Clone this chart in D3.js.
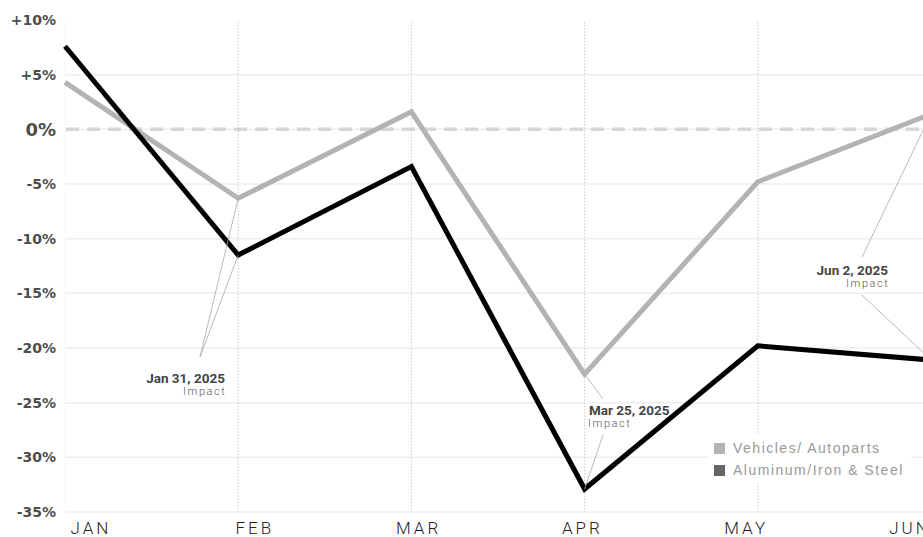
<!DOCTYPE html>
<html>
<head>
<meta charset="utf-8">
<script src="https://cdn.jsdelivr.net/npm/d3@7"></script>
<style>
  html, body { margin: 0; padding: 0; background: #fff; }
  svg { display: block; }
</style>
</head>
<body>
<svg id="chart" width="923" height="537"></svg>
<script>
// Monthly change, 2025
const months = ["JAN", "FEB", "MAR", "APR", "MAY", "JUN"];
const vehicles = [4.3, -6.3, 1.6, -22.4, -4.8, 1.4];      // Vehicles/ Autoparts
const metals   = [7.6, -11.5, -3.4, -32.9, -19.8, -21.1]; // Aluminum/Iron & Steel
const yTicks = [10, 5, 0, -5, -10, -15, -20, -25, -30, -35];
const seriesNames = ["Vehicles/ Autoparts", "Aluminum/Iron & Steel"];
const impactDates = ["Jan 31, 2025", "Mar 25, 2025", "Jun 2, 2025"];

const W = 923, H = 537;
const svg = d3.select("#chart");

const x = d3.scalePoint().domain(months).range([65, 931]);
const xLabel = d3.scalePoint().domain(months).range([91, 910]);
const y = d3.scaleLinear().domain([-35, 10]).range([512, 20]);

const grey = "#b3b3b3", black = "#000";

// horizontal grid
svg.append("g").selectAll("line")
  .data(yTicks.filter(d => d !== 10))
  .join("line")
  .attr("x1", 66).attr("x2", W)
  .attr("y1", d => y(d)).attr("y2", d => y(d))
  .attr("stroke", "#eeeeee").attr("stroke-width", 1.5);

// zero reference
svg.append("line")
  .attr("x1", 66).attr("x2", W)
  .attr("y1", y(0)).attr("y2", y(0))
  .attr("stroke", "#d6d6d6").attr("stroke-width", 3.5)
  .attr("stroke-dasharray", "13 8");

// vertical dotted month lines
svg.append("g").selectAll("line")
  .data(months)
  .join("line")
  .attr("x1", d => x(d)).attr("x2", d => x(d))
  .attr("y1", 22).attr("y2", y(-35))
  .attr("stroke", d => d === "JAN" ? "#ececec" : "#bdbdbd")
  .attr("stroke-width", 1)
  .attr("stroke-dasharray", "1.2 2");

// y-axis labels
svg.append("g").selectAll("text")
  .data(yTicks)
  .join("text")
  .attr("x", 56)
  .attr("y", d => y(d))
  .attr("dy", "0.36em")
  .attr("text-anchor", "end")
  .attr("font-family", "DejaVu Sans, sans-serif")
  .attr("font-weight", "bold")
  .attr("font-size", d => d === 0 ? 18 : 14)
  .attr("fill", "#4d4d4d")
  .text(d => (d > 0 ? "+" : "") + d + "%");

// x-axis labels
svg.append("g").selectAll("text")
  .data(months)
  .join("text")
  .attr("x", d => xLabel(d))
  .attr("y", 534)
  .attr("text-anchor", "middle")
  .attr("font-family", "Roboto, Liberation Sans, sans-serif")
  .attr("font-weight", 300)
  .attr("font-size", 17)
  .attr("letter-spacing", 3)
  .attr("fill", "#222")
  .text(d => d);

// series lines
const line = d3.line().x((d, i) => x(months[i])).y(d => y(d));
svg.append("path").datum(vehicles)
  .attr("d", line).attr("fill", "none")
  .attr("stroke", grey).attr("stroke-width", 5)
  .attr("stroke-linejoin", "miter");
svg.append("path").datum(metals)
  .attr("d", line).attr("fill", "none")
  .attr("stroke", black).attr("stroke-width", 5)
  .attr("stroke-linejoin", "miter");

// impact annotations
const notes = [
  { date: impactDates[0], month: "FEB", tx: 225, ty: 383, anchor: "end",
    leaders: [[200, 357, vehicles[1]], [200, 357, metals[1]]] },
  { date: impactDates[1], month: "APR", tx: 589, ty: 415, anchor: "start",
    leaders: [[603, 399, vehicles[3]], [603, 435, metals[3]]] },
  { date: impactDates[2], month: "JUN", tx: 888, ty: 275, anchor: "end",
    leaders: [[862, 257, vehicles[5]], [862, 295, metals[5]]] }
];
const ann = svg.append("g");
notes.forEach(n => {
  n.leaders.forEach(([lx, ly, v]) => {
    ann.append("line")
      .attr("x1", lx).attr("y1", ly)
      .attr("x2", x(n.month)).attr("y2", y(v))
      .attr("stroke", "#a8a8a8").attr("stroke-width", 0.8);
  });
  ann.append("text")
    .attr("x", n.tx).attr("y", n.ty)
    .attr("text-anchor", n.anchor)
    .attr("font-family", "Liberation Sans Narrow, Roboto, sans-serif")
    .attr("font-weight", "bold")
    .attr("font-size", 13.5)
    .attr("fill", "#444")
    .text(n.date);
  ann.append("text")
    .attr("x", n.anchor === "end" ? n.tx + 1.5 : n.tx - 1).attr("y", n.ty + 12)
    .attr("text-anchor", n.anchor)
    .attr("font-family", "Roboto, Liberation Sans, sans-serif")
    .attr("font-weight", 300)
    .attr("font-size", 11)
    .attr("letter-spacing", 1.6)
    .attr("fill", "#555")
    .text("Impact");
});

// legend
const lg = svg.append("g");
lg.append("rect").attr("x", 708).attr("y", 433).attr("width", 203).attr("height", 50).attr("fill", "#fff");
const legendColors = ["#b3b3b3", "#666666"];
seriesNames.forEach((name, i) => {
  lg.append("rect")
    .attr("x", 714).attr("y", 443 + i * 22)
    .attr("width", 11).attr("height", 11)
    .attr("fill", legendColors[i]);
  lg.append("text")
    .attr("x", 733).attr("y", 453 + i * 22)
    .attr("font-family", "Liberation Sans, Arial, sans-serif")
    .attr("font-size", 14)
    .attr("letter-spacing", 1.5)
    .attr("fill", "#999")
    .text(name);
});
</script>
</body>
</html>
